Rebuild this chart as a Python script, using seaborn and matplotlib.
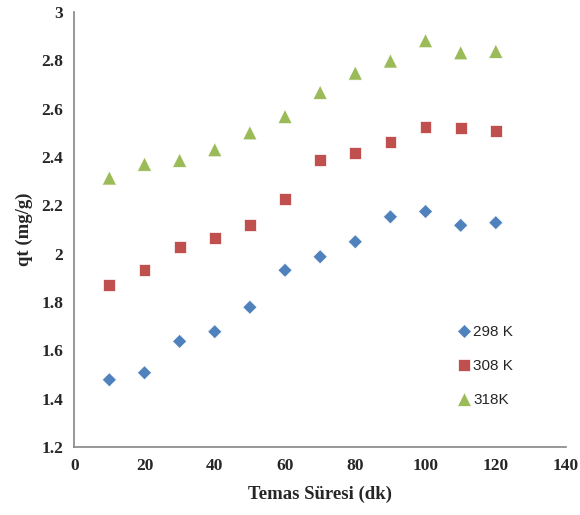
import numpy as np
import pandas as pd
import matplotlib
matplotlib.use('Agg')
import matplotlib.pyplot as plt
import seaborn as sns

# Temas suresi (dk) ve qt (mg/g) degerleri
sure = [10, 20, 30, 40, 50, 60, 70, 80, 90, 100, 110, 120]
qt_298 = [1.478, 1.507, 1.637, 1.677, 1.778, 1.931, 1.987, 2.049, 2.152, 2.174, 2.117, 2.128]
qt_308 = [1.869, 1.931, 2.026, 2.066, 2.117, 2.225, 2.387, 2.416, 2.462, 2.524, 2.519, 2.506]
qt_318 = [2.313, 2.370, 2.386, 2.430, 2.500, 2.567, 2.667, 2.747, 2.797, 2.881, 2.831, 2.837]
seriler = ['298 K', '308 K', '318K']

x_ticks = [0, 20, 40, 60, 80, 100, 120, 140]
y_ticks = [1.2, 1.4, 1.6, 1.8, 2.0, 2.2, 2.4, 2.6, 2.8, 3.0]
y_tick_labels = ['1.2', '1.4', '1.6', '1.8', '2', '2.2', '2.4', '2.6', '2.8', '3']

df = pd.DataFrame({
    'sure': sure * 3,
    'qt': qt_298 + qt_308 + qt_318,
    'seri': [seriler[0]] * len(sure) + [seriler[1]] * len(sure) + [seriler[2]] * len(sure),
})

sns.set_style('white')
renkler = {'298 K': '#4F81BD', '308 K': '#C0504D', '318K': '#9BBB59'}
isaretler = {'298 K': 'D', '308 K': 's', '318K': '^'}
boyutlar = {'298 K': 52, '308 K': 72, '318K': 105}

fig, ax = plt.subplots(figsize=(5.8, 5.15), dpi=100)
fig.subplots_adjust(left=0.128, right=0.976, top=0.977, bottom=0.132)

sns.scatterplot(data=df, x='sure', y='qt', hue='seri', style='seri', size='seri',
                palette=renkler, markers=isaretler, sizes=boyutlar, linewidth=0.5,
                edgecolor='white', ax=ax)

ax.set_xlim(0, 140)
ax.set_ylim(1.2, 3.0)
ax.set_xticks(x_ticks)
ax.set_yticks(y_ticks)
ax.set_yticklabels(y_tick_labels)
serif = 'Liberation Serif'
for lbl in ax.get_xticklabels() + ax.get_yticklabels():
    lbl.set_fontfamily(serif)
    lbl.set_fontweight('bold')
    lbl.set_fontsize(12.5)
ax.tick_params(length=0, pad=8)

ax.set_xlabel('Temas Süresi (dk)', fontfamily=serif, fontweight='bold', fontsize=13.5, labelpad=8)
ax.set_ylabel('qt (mg/g)', fontfamily=serif, fontweight='bold', fontsize=13.5, labelpad=6)

for side in ['top', 'right']:
    ax.spines[side].set_visible(False)
for side in ['left', 'bottom']:
    ax.spines[side].set_color('#868686')
    ax.spines[side].set_linewidth(1.2)

leg = ax.legend(loc='lower right', bbox_to_anchor=(0.92, 0.06), frameon=False,
                labelspacing=1.3, handletextpad=0.1, handlelength=1.0,
                prop={'family': 'Liberation Sans', 'size': 11})

fig.savefig('out.png', dpi=100)
